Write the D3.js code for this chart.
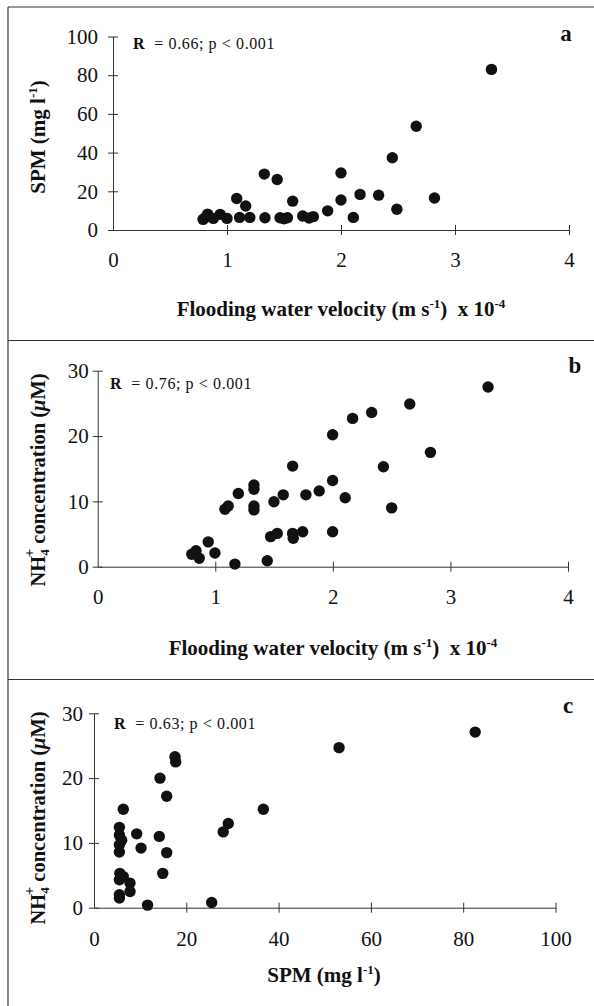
<!DOCTYPE html>
<html><head><meta charset="utf-8">
<script src="https://cdn.jsdelivr.net/npm/d3@7/dist/d3.min.js"></script>
<style>
body{margin:0;background:#fff;}
svg{display:block;font-family:"Liberation Serif","Times New Roman",serif;}
</style></head>
<body><svg id="c" width="594" height="1006"></svg>
<script>
// ---- data ----
const velTicks = [0, 1, 2, 3, 4];
const spmTicks = [0, 20, 40, 60, 80, 100];
const nh4Ticks = [0, 10, 20, 30];
const spmXTicks = [0, 20, 40, 60, 80, 100];

// panel a: velocity (x10^-4 m/s) vs SPM (mg/l)
const aVel = [0.79,0.81,0.83,0.88,0.94,1.0,1.085,1.11,1.164,1.2,1.327,1.333,1.44,1.465,1.5,1.53,1.576,1.664,1.72,1.757,1.883,2.0,2.0,2.108,2.167,2.33,2.45,2.49,2.66,2.82,3.32];
const aSPM = [5.5,6.5,8.2,6.0,8.1,6.0,16.3,6.5,12.4,6.5,28.9,6.3,26.1,6.3,5.8,6.3,14.9,7.2,6.2,6.9,9.9,29.5,15.5,6.5,18.4,18.0,37.3,10.7,53.6,16.5,83.0];

// panel b: velocity vs NH4+ (uM)
const bVel = [0.80,0.836,0.864,0.94,0.997,1.167,1.082,1.11,1.196,1.329,1.329,1.329,1.329,1.442,1.471,1.499,1.527,1.578,1.658,1.658,1.663,1.743,1.771,1.884,1.998,1.998,1.998,2.105,2.168,2.33,2.43,2.50,2.654,2.83,3.32];
const bNH4 = [1.9,2.45,1.3,3.8,2.1,0.4,8.8,9.3,11.2,12.5,11.85,9.3,8.7,0.9,4.6,9.95,5.1,11.0,15.4,5.1,4.35,5.36,11.0,11.6,20.2,13.2,5.36,10.56,22.7,23.6,15.3,9.0,24.9,17.5,27.5];

// panel c: SPM vs NH4+
const cSPM = [17.55,17.7,14.3,15.75,6.35,36.7,29.1,28.0,5.5,5.5,6.0,5.5,5.5,9.25,10.2,14.15,15.75,14.9,5.6,6.35,7.8,5.5,7.8,5.5,5.5,11.6,25.5,53.1,82.6];
const cNH4 = [23.3,22.5,20.0,17.2,15.2,15.2,13.0,11.7,12.4,11.2,10.4,9.7,8.6,11.4,9.2,11.0,8.5,5.3,5.3,4.8,3.8,4.3,2.5,2.0,1.5,0.4,0.8,24.7,27.1];

const svg = d3.select("#c");
const ink = "#111";

// frame lines
const frame = svg.append("g").attr("stroke", "#333").attr("stroke-width", 1.2);
frame.append("line").attr("x1", 8).attr("x2", 594).attr("y1", 7).attr("y2", 7);
frame.append("line").attr("x1", 8).attr("x2", 8).attr("y1", 7).attr("y2", 1006);
frame.append("line").attr("x1", 8).attr("x2", 594).attr("y1", 340.5).attr("y2", 340.5);
frame.append("line").attr("x1", 8).attr("x2", 594).attr("y1", 679.5).attr("y2", 679.5);

function panel(cfg) {
  const x = d3.scaleLinear().domain(cfg.xDom).range([cfg.x0, cfg.x1]);
  const y = d3.scaleLinear().domain(cfg.yDom).range([cfg.y0, cfg.y1]);
  const g = svg.append("g");
  const fmt = d3.format("d");

  const xa = g.append("g").attr("transform", `translate(0,${cfg.y0})`)
    .call(d3.axisBottom(x).tickValues(cfg.xTicks).tickFormat(fmt).tickSizeOuter(0).tickSizeInner(0).tickPadding(cfg.xPad));
  const ya = g.append("g").attr("transform", `translate(${cfg.x0},0)`)
    .call(d3.axisLeft(y).tickValues(cfg.yTicks).tickFormat(fmt).tickSizeOuter(0).tickSizeInner(0).tickPadding(cfg.yPad));
  [xa, ya].forEach(a => {
    a.select(".domain").attr("stroke", "#333").attr("stroke-width", 1);
    a.selectAll(".tick text").attr("font-size", 21).attr("fill", ink)
      .attr("font-family", "Liberation Serif");
  });
  xa.selectAll(".tick line").attr("y1", -5).attr("y2", 5).attr("stroke", "#333");
  ya.selectAll(".tick line").attr("x1", -5).attr("x2", 5).attr("stroke", "#333");
  xa.selectAll(".tick text").attr("dy", "0.71em");
  xa.selectAll(".tick").filter(d => d === cfg.xTicks[0]).select("line").remove();

  g.append("g").selectAll("circle").data(cfg.xs.map((v, i) => [v, cfg.ys[i]]))
    .join("circle").attr("cx", d => x(d[0])).attr("cy", d => y(d[1]))
    .attr("r", 5.7).attr("fill", ink);

  // R annotation
  const r = g.append("text").attr("x", cfg.rX).attr("y", cfg.rY)
    .attr("font-size", 16).attr("letter-spacing", 0.6).attr("fill", ink)
    .attr("xml:space", "preserve");
  r.append("tspan").attr("font-weight", "bold").text("R");
  r.append("tspan").text("  = " + cfg.rText);

  // panel letter
  g.append("text").attr("x", cfg.letX).attr("y", cfg.letY).attr("text-anchor", "middle")
    .attr("font-size", 23).attr("font-weight", "bold").attr("fill", ink).text(cfg.letter);

  // x title
  const xt = g.append("text").attr("x", cfg.xtX).attr("y", cfg.xtY).attr("text-anchor", "middle")
    .attr("font-size", 21).attr("font-weight", "bold").attr("fill", ink);
  cfg.xTitle(xt);

  // y title
  const yt = g.append("text").attr("transform", `translate(${cfg.ytX},${cfg.ytY}) rotate(-90)`)
    .attr("text-anchor", "middle").attr("font-size", cfg.ytSize).attr("font-weight", "bold").attr("fill", ink);
  cfg.yTitle(yt);
}

function velTitle(t) {
  t.attr("xml:space", "preserve");
  t.append("tspan").text("Flooding water velocity (m s");
  t.append("tspan").attr("font-size", 13).attr("dy", -8).text("-1");
  t.append("tspan").attr("dy", 8).text(")  x 10");
  t.append("tspan").attr("font-size", 13).attr("dy", -8).text("-4");
}
function spmTitle(t) {
  t.append("tspan").text("SPM (mg l");
  t.append("tspan").attr("font-size", 13).attr("dy", -8).text("-1");
  t.append("tspan").attr("dy", 8).text(")");
}
function nh4Title(t) {
  t.attr("xml:space", "preserve");
  t.append("tspan").text("NH");
  t.append("tspan").attr("font-size", 13).attr("dy", 4).text("4");
  t.append("tspan").attr("font-size", 15).attr("dx", -8).attr("dy", -15).text("+");
  t.append("tspan").attr("dy", 11).text(" concentration (");
  t.append("tspan").attr("font-style", "italic").text("μ");
  t.append("tspan").text("M)");
}

panel({
  xDom: [0, 4], yDom: [0, 100], x0: 113, x1: 569, y0: 230, y1: 36.5,
  xTicks: velTicks, yTicks: spmTicks, xPad: 22, yPad: 15,
  xs: aVel, ys: aSPM, rX: 133, rY: 49, rText: "0.66; p < 0.001",
  letter: "a", letX: 566, letY: 41, xtX: 341, xtY: 316, xTitle: velTitle,
  ytX: 45, ytY: 137, ytSize: 21, yTitle: spmTitle
});
panel({
  xDom: [0, 4], yDom: [0, 30], x0: 97.7, x1: 568, y0: 566.7, y1: 370.7,
  xTicks: velTicks, yTicks: nh4Ticks, xPad: 22, yPad: 9,
  xs: bVel, ys: bNH4, rX: 110, rY: 389, rText: "0.76; p < 0.001",
  letter: "b", letX: 575, letY: 373, xtX: 333, xtY: 655, xTitle: velTitle,
  ytX: 45, ytY: 480, ytSize: 20.5, yTitle: nh4Title
});
panel({
  xDom: [0, 100], yDom: [0, 30], x0: 94, x1: 555.5, y0: 907.7, y1: 713.3,
  xTicks: spmXTicks, yTicks: nh4Ticks, xPad: 23, yPad: 11,
  xs: cSPM, ys: cNH4, rX: 114, rY: 729, rText: "0.63; p < 0.001",
  letter: "c", letX: 568, letY: 713, xtX: 324, xtY: 982, xTitle: spmTitle,
  ytX: 45, ytY: 818, ytSize: 20.5, yTitle: nh4Title
});
</script></body></html>
